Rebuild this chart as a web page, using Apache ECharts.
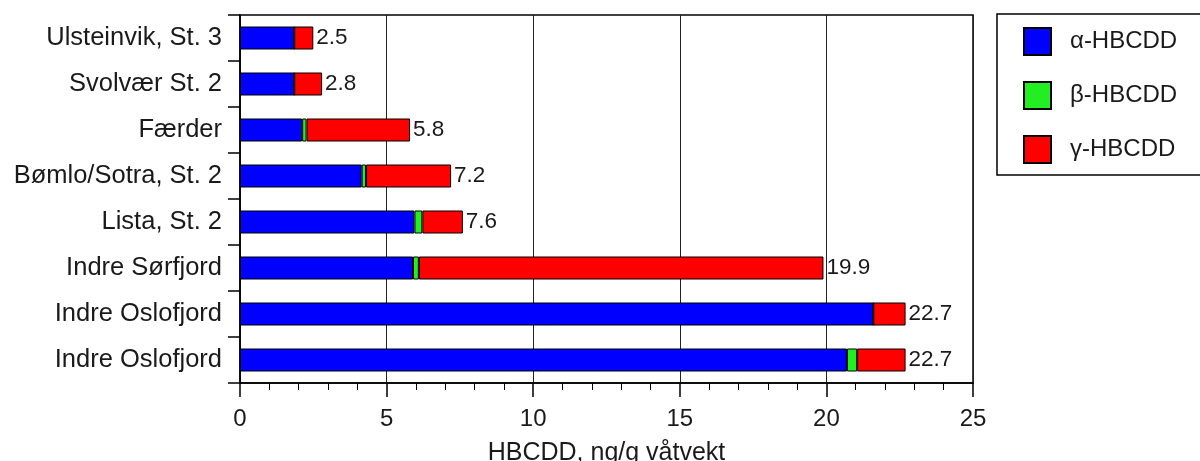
<!DOCTYPE html>
<html>
<head>
<meta charset="utf-8">
<script src="https://cdn.jsdelivr.net/npm/echarts@6/dist/echarts.min.js"></script>
<style>
html,body{margin:0;padding:0;background:#fff;}
#chart{width:1200px;height:461px;}
</style>
</head>
<body>
<div id="chart"></div>
<script>
const categories = ['Ulsteinvik, St. 3', 'Svolvær St. 2', 'Færder', 'Bømlo/Sotra, St. 2', 'Lista, St. 2', 'Indre Sørfjord', 'Indre Oslofjord', 'Indre Oslofjord'];
const alphaValues = [1.85, 1.85, 2.12, 4.15, 5.95, 5.9, 21.6, 20.7];
const betaValues  = [0, 0, 0.15, 0.15, 0.27, 0.2, 0, 0.35];
const gammaValues = [0.65, 0.95, 3.53, 2.9, 1.38, 13.8, 1.1, 1.65];
const totalLabels = ['2.5', '2.8', '5.8', '7.2', '7.6', '19.9', '22.7', '22.7'];
const seriesNames = ['α-HBCDD', 'β-HBCDD', 'γ-HBCDD'];
const xTicks = [0, 5, 10, 15, 20, 25];

const FONT = 'Liberation Sans, Arial, Helvetica, sans-serif';
const chart = echarts.init(document.getElementById('chart'), null, {renderer: 'canvas'});

function barSeries(name, data, color, withLabel) {
  return {
    name: name,
    type: 'bar',
    stack: 'total',
    barWidth: 23,
    data: data,
    itemStyle: {color: color, borderColor: '#000', borderWidth: 1},
    label: withLabel ? {
      show: true,
      position: 'right',
      distance: 3,
      fontFamily: FONT,
      fontSize: 22.5,
      color: '#1a1a1a',
      formatter: function (p) { return totalLabels[p.dataIndex]; }
    } : {show: false},
    emphasis: {disabled: true},
    animation: false
  };
}

chart.setOption({
  animation: false,
  backgroundColor: '#fff',
  grid: {left: 240, right: 227, top: 15, bottom: 78, containLabel: false, outerBoundsMode: 'none', show: true, borderColor: '#000', borderWidth: 1.5, backgroundColor: 'transparent'},
  legend: {
    orient: 'vertical',
    left: 997,
    top: 14,
    padding: [13, 40, 11, 26],
    itemWidth: 27,
    itemHeight: 27,
    itemGap: 25,
    icon: 'rect',
    borderColor: '#000',
    borderWidth: 1.5,
    data: seriesNames,
    textStyle: {fontFamily: FONT, fontSize: 24, color: '#1a1a1a', padding: [0, 0, 0, 14]}
  },
  xAxis: {
    type: 'value',
    min: xTicks[0],
    max: xTicks[xTicks.length - 1],
    interval: 5,
    name: 'HBCDD, ng/g våtvekt',
    nameLocation: 'middle',
    nameGap: 58,
    nameTextStyle: {fontFamily: FONT, fontSize: 25, color: '#1a1a1a'},
    axisLine: {show: true, lineStyle: {color: '#000', width: 1.5}},
    axisTick: {show: true, inside: false, length: 14, lineStyle: {color: '#000', width: 1.5}},
    minorTick: {show: true, splitNumber: 5, length: 7, lineStyle: {color: '#000', width: 1}},
    axisLabel: {fontFamily: FONT, fontSize: 24, color: '#1a1a1a', margin: 24},
    splitLine: {show: true, lineStyle: {color: '#222', width: 1}}
  },
  yAxis: {
    type: 'category',
    inverse: true,
    data: categories,
    axisLine: {show: true, lineStyle: {color: '#000', width: 1.5}},
    axisTick: {show: true, inside: false, length: 12, lineStyle: {color: '#000', width: 1.5}},
    axisLabel: {fontFamily: FONT, fontSize: 25.5, color: '#1a1a1a', margin: 18},
    splitLine: {show: false}
  },
  series: [
    barSeries(seriesNames[0], alphaValues, '#0000ff', false),
    barSeries(seriesNames[1], betaValues, '#22ee22', false),
    barSeries(seriesNames[2], gammaValues, '#ff0000', true)
  ]
});
</script>
</body>
</html>
